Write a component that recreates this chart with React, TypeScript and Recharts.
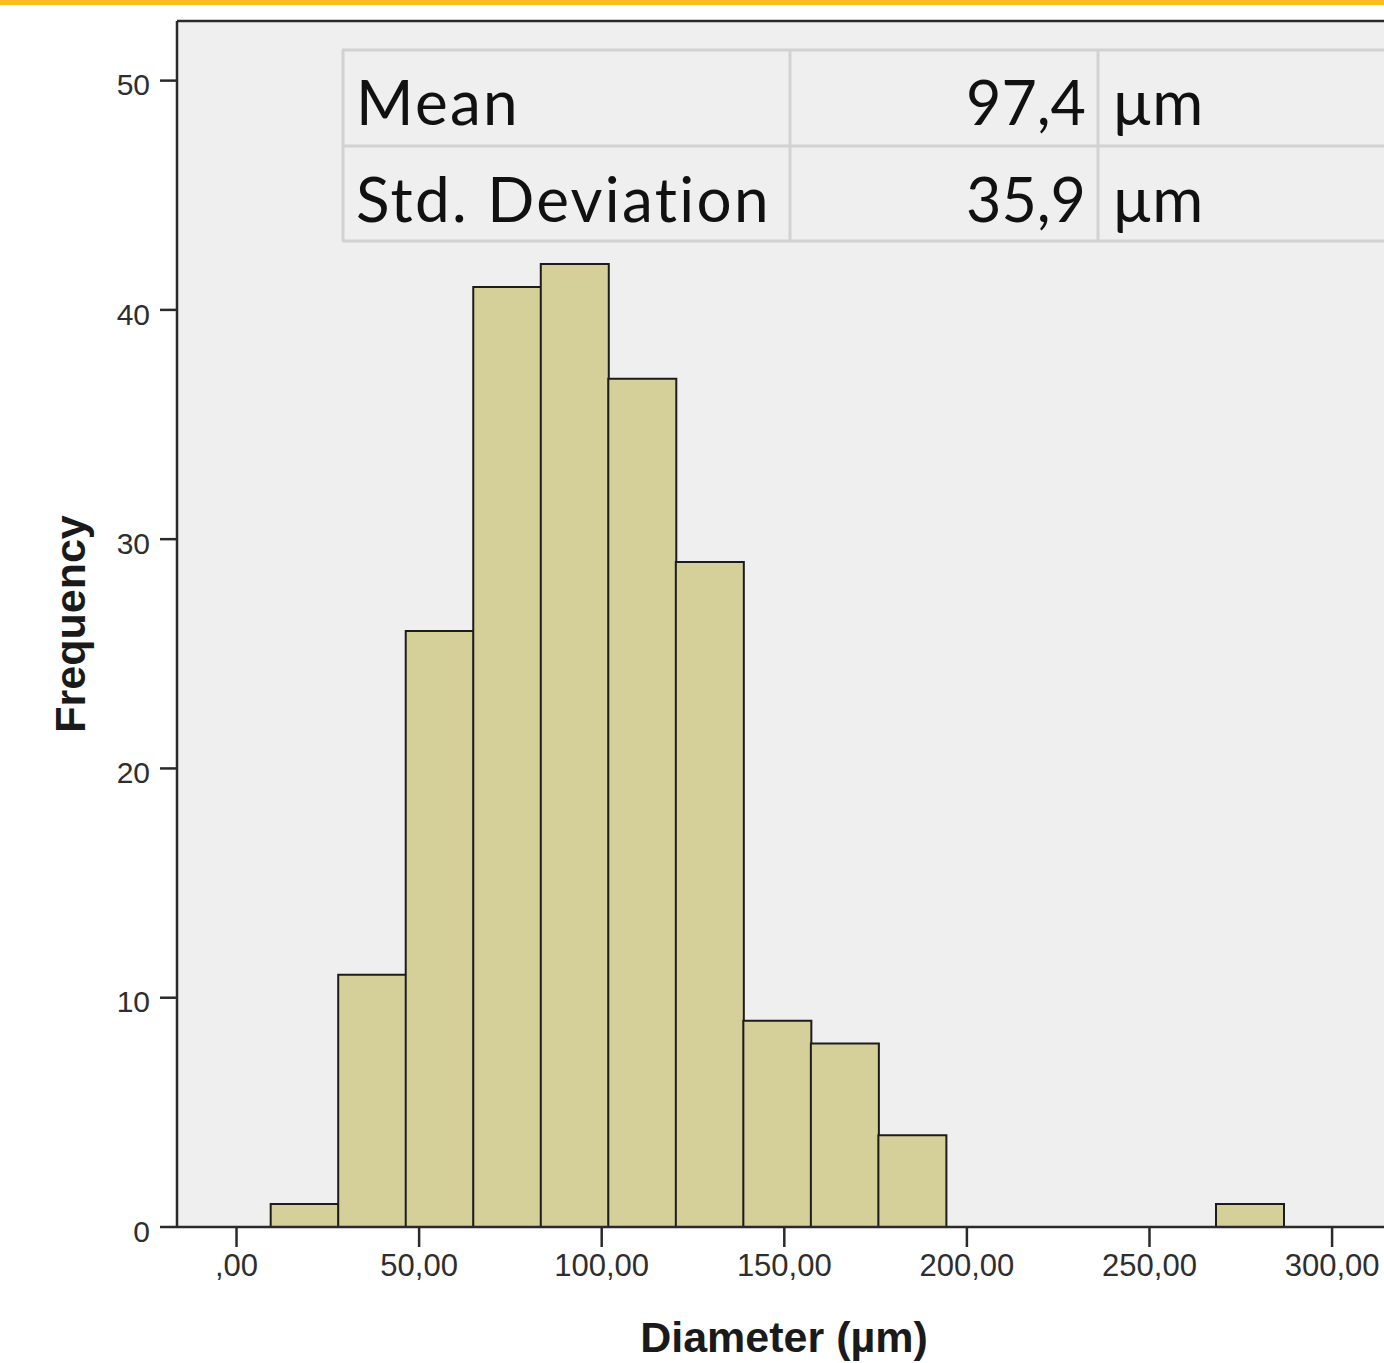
import React from 'react';
import { ComposedChart, Bar, XAxis, YAxis, CartesianGrid, ReferenceLine } from 'recharts';

// Histogram bins (bin centres in µm) and their frequencies
const binMids = [18.6, 37.09, 55.58, 74.07, 92.56, 111.05, 129.54, 148.03, 166.52, 185.01, 203.5, 221.99, 240.48, 258.97, 277.46];
const frequencies = [1, 11, 26, 41, 42, 37, 29, 9, 8, 4, 0, 0, 0, 0, 1];

const xTicks = [0, 50, 100, 150, 200, 250, 300];
const xTickLabels = [',00', '50,00', '100,00', '150,00', '200,00', '250,00', '300,00'];
const yTicks = [0, 10, 20, 30, 40, 50];

const statLabels = ['Mean', 'Std. Deviation'];
const statValues = ['97,4', '35,9'];
const statUnits = ['µm', 'µm'];

const X_DOMAIN: [number, number] = [-16.3, 318.6];
const Y_DOMAIN: [number, number] = [0, 52.6];

const data = binMids.map((mid, i) => ({ mid, freq: frequencies[i] }));

const AXIS = '#2a2a2a';
const TICK_FONT = '"Liberation Sans", Arial, sans-serif';

const YTitle = (props: any) => {
  const vb = props.viewBox || {};
  return (
    <text
      x={70}
      y={vb.y + vb.height / 2}
      transform={`rotate(-90, 70, ${vb.y + vb.height / 2})`}
      textAnchor="middle"
      dominantBaseline="central"
      fontFamily={TICK_FONT}
      fontWeight="bold"
      fontSize={43}
      fill="#1a1a1a"
    >
      Frequency
    </text>
  );
};

const XTitle = (props: any) => {
  const vb = props.viewBox || {};
  return (
    <text
      x={784}
      y={vb.y + 110}
      textAnchor="middle"
      dominantBaseline="central"
      fontFamily={TICK_FONT}
      fontWeight="bold"
      fontSize={43}
      fill="#1a1a1a"
    >
      Diameter (µm)
    </text>
  );
};

const StatsTable = () => {
  const rowLines = [50, 146, 241];
  const baselines = [125, 222];
  const font = 'Lato, "Open Sans", sans-serif';
  return (
    <svg width={1384} height={300} style={{ position: 'absolute', left: 0, top: 0, pointerEvents: 'none' }}>
      {rowLines.map((y) => (
        <line key={y} x1={342} x2={1384} y1={y} y2={y} stroke="#d2d2d2" strokeWidth={3} />
      ))}
      <line x1={343} x2={343} y1={50} y2={241} stroke="#d2d2d2" strokeWidth={3} />
      <line x1={790} x2={790} y1={50} y2={241} stroke="#d2d2d2" strokeWidth={3} />
      <line x1={1098} x2={1098} y1={50} y2={241} stroke="#d2d2d2" strokeWidth={3} />
      {statLabels.map((s, i) => (
        <text key={s} x={356} y={baselines[i]} fontFamily={font} fontSize={62} letterSpacing={2.3} fill="#111">
          {s}
        </text>
      ))}
      {statValues.map((s, i) => (
        <text key={'v' + i} x={1086} y={baselines[i]} textAnchor="end" fontFamily={font} fontSize={61} fill="#111">
          {s}
        </text>
      ))}
      {statUnits.map((s, i) => (
        <text key={'u' + i} x={1112} y={baselines[i]} fontFamily={font} fontSize={62} fill="#111">
          {s}
        </text>
      ))}
    </svg>
  );
};

export default function App() {
  return (
    <div style={{ position: 'absolute', left: 0, top: 0, width: 1384, height: 1363, overflow: 'hidden', background: '#fff' }}>
      <ComposedChart
        width={1400}
        height={1363}
        data={data}
        margin={{ top: 21, right: 0, bottom: 0, left: 0 }}
        barCategoryGap={0}
        barGap={0}
      >
        <CartesianGrid horizontal={false} vertical={false} fill="#efefef" stroke="none" />
        <XAxis
          type="number"
          dataKey="mid"
          domain={X_DOMAIN}
          allowDataOverflow
          ticks={xTicks}
          interval={0}
          height={136}
          tickFormatter={(v: number) => xTickLabels[xTicks.indexOf(v)] ?? ''}
          tick={{ fontFamily: TICK_FONT, fontSize: 31, fill: '#2e2e2e' }}
          tickSize={20}
          tickMargin={7}
          axisLine={{ stroke: AXIS, strokeWidth: 2.5 }}
          tickLine={{ stroke: AXIS, strokeWidth: 2.5 }}
          label={<XTitle />}
        />
        <YAxis
          type="number"
          domain={Y_DOMAIN}
          allowDataOverflow
          ticks={yTicks}
          interval={0}
          width={177}
          tick={{ fontFamily: TICK_FONT, fontSize: 30, fill: '#2e2e2e', dy: 4 }}
          tickSize={17}
          tickMargin={10}
          axisLine={{ stroke: AXIS, strokeWidth: 2.5 }}
          tickLine={{ stroke: AXIS, strokeWidth: 2.5 }}
          label={<YTitle />}
        />
        <ReferenceLine y={Y_DOMAIN[1]} stroke={AXIS} strokeWidth={2.5} />
        <Bar dataKey="freq" fill="#d5d09a" stroke="#1c1c1c" strokeWidth={2} isAnimationActive={false} />
      </ComposedChart>
      <div style={{ position: 'absolute', left: 0, top: 0, width: 1384, height: 5, background: '#f5bf1c' }} />
      <StatsTable />
    </div>
  );
}
